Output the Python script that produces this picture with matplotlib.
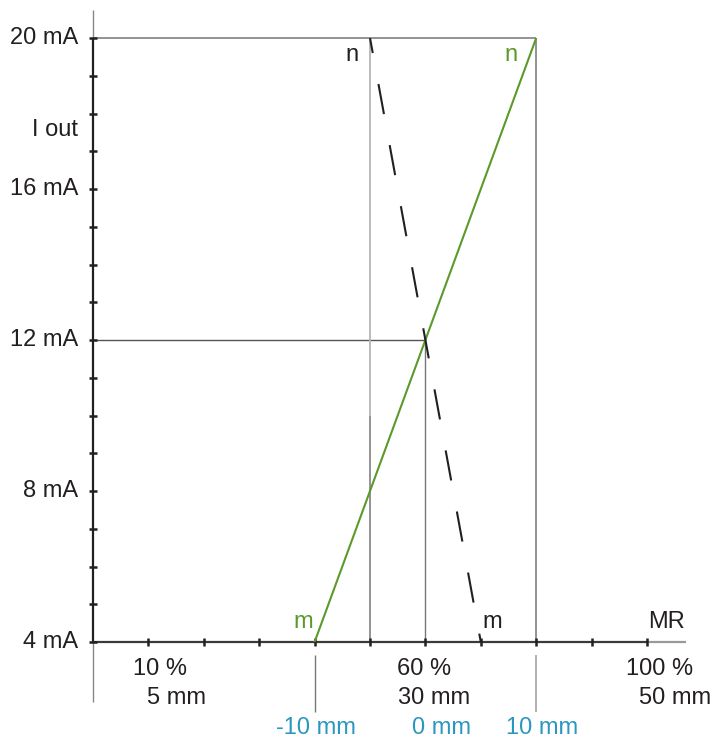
import matplotlib
matplotlib.use("Agg")
import matplotlib.pyplot as plt

plt.rcParams['font.family'] = ['Liberation Sans', 'DejaVu Sans']
plt.rcParams['lines.scale_dashes'] = False

# ---- data ----
x_ticks = [10, 20, 30, 40, 50, 60, 70, 80, 90, 100]
y_ticks = list(range(4, 21))
y_label_vals = [4, 8, 12, 16, 20]
y_label_txt = ['4 mA', '8 mA', '12 mA', '16 mA', '20 mA']

pct_labels = ['10 %', '60 %', '100 %']
pct_label_x = [12.1, 59.8, 102.2]
mm_labels = ['5 mm', '30 mm', '50 mm']
mm_label_x = [15.0, 61.6, 105.0]
rel_labels = ['-10 mm', '0 mm', '10 mm']
rel_label_x = [40.2, 62.9, 81.0]

green_x = [40, 80]
green_y = [4, 20]
dash_x = [50, 70]
dash_y = [20, 4]

DARK = '#231f20'
GREEN = '#5b9a2a'
BLUE = '#2a97c0'

fig = plt.figure(figsize=(7.15, 7.39), dpi=100)
ax = fig.add_axes([93/715, 97/739, 554/715, 604/739])
ax.set_xlim(0, 100)
ax.set_ylim(4, 20)
ax.axis('off')

kw = dict(clip_on=False, solid_capstyle='butt')

# reference lines
ax.plot([0, 80], [20, 20], color='#8a8a8a', lw=1.3, **kw)
ax.plot([0, 60], [12, 12], color='#555555', lw=1.0, **kw)
ax.plot([50, 50], [20, 10], color='#b5b5b5', lw=1.3, **kw)
ax.plot([50, 50], [10, 4], color='#8a8a8a', lw=1.3, **kw)
ax.plot([60, 60], [12, 4], color='#777777', lw=1.0, **kw)
ax.plot([80, 80], [20, 4], color='#8a8a8a', lw=1.3, **kw)
ax.plot([40, 40], [3.66, 2.15], color='#777777', lw=1.0, **kw)
ax.plot([80, 80], [3.66, 2.15], color='#aaaaaa', lw=1.3, **kw)

# axis lines
ax.plot([0, 0], [4, 20], color=DARK, lw=1.6, **kw)
ax.plot([0, 0], [20, 20.74], color='#888888', lw=1.0, **kw)
ax.plot([0, 0], [2.41, 4], color='#888888', lw=1.0, **kw)
ax.plot([0, 100], [4, 4], color='#3a3a3a', lw=1.6, **kw)
ax.plot([100, 107], [4, 4], color='#999999', lw=1.6, **kw)

# ticks
ax.plot([0]*len(y_ticks), y_ticks, ls='none', marker='_', ms=6, mew=1.8,
        color=DARK, clip_on=False)
ax.plot(x_ticks, [4]*len(x_ticks), ls='none', marker='|', ms=6, mew=1.8,
        color=DARK, clip_on=False)

# characteristic lines
ax.plot(green_x, green_y, color=GREEN, lw=1.5, **kw)
ax.plot(dash_x, dash_y, color=DARK, lw=1.5, linestyle=(11, (22, 22.7)),
        clip_on=False)

fs = 17
for v, t in zip(y_label_vals, y_label_txt):
    ax.text(-2.7, v, t, ha='right', va='center', fontsize=fs, color=DARK)
ax.text(-2.7, 17.56, 'I out', ha='right', va='center', fontsize=fs, color=DARK)

for x, t in zip(pct_label_x, pct_labels):
    ax.text(x, 3.285, t, ha='center', va='center', fontsize=fs, color=DARK)
for x, t in zip(mm_label_x, mm_labels):
    ax.text(x, 2.517, t, ha='center', va='center', fontsize=fs, color=DARK)
for x, t in zip(rel_label_x, rel_labels):
    ax.text(x, 1.72, t, ha='center', va='center', fontsize=fs, color=BLUE)

ax.text(46.7, 19.55, 'n', ha='center', va='center', fontsize=fs, color=DARK)
ax.text(75.5, 19.55, 'n', ha='center', va='center', fontsize=fs, color=GREEN)
ax.text(37.9, 4.53, 'm', ha='center', va='center', fontsize=fs, color=GREEN)
ax.text(72.0, 4.53, 'm', ha='center', va='center', fontsize=fs, color=DARK)
ax.text(103.6, 4.53, 'MR', ha='center', va='center', fontsize=fs, color=DARK)

fig.savefig('out.png', dpi=100)
